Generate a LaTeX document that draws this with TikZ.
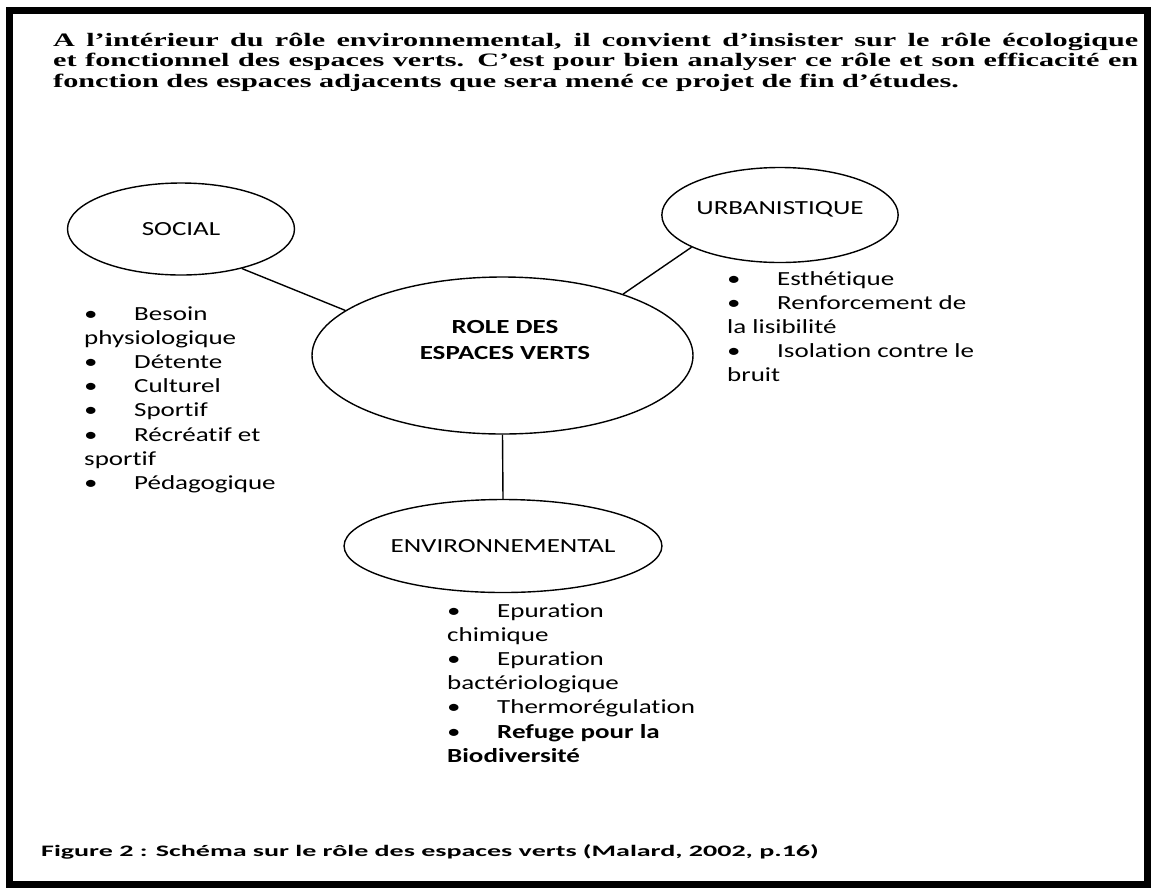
\documentclass[tikz,border=0pt]{standalone}
\usepackage{fontspec}
\setmainfont{Liberation Serif}
\newfontfamily\schemafont[FakeStretch=1.35,Ligatures=NoCommon]{Carlito}
\newfontfamily\titrefont[FakeStretch=1.59,Ligatures=NoCommon]{Liberation Serif}
\newfontfamily\legendefont[FakeStretch=1.75,Ligatures=NoCommon]{Carlito}
\usetikzlibrary{shapes.geometric,positioning}
\newcommand{\puce}{\strut\makebox[50pt][l]{\textbullet}}
\tikzset{
  bulle/.style  = {draw, ellipse, line width=1.4pt, inner sep=0pt,
                   font=\schemafont\fontsize{20}{24.2}\selectfont},
  liste/.style  = {anchor=north west, align=left, inner sep=0pt,
                   font=\schemafont\fontsize{20}{24.2}\selectfont},
  lien/.style   = {line width=1.4pt},
  cadre/.style  = {line width=7pt},
}
\begin{document}
\begin{tikzpicture}[x=1pt,y=-1pt]
  \useasboundingbox (0,0) rectangle (1158,887);
  \draw[cadre] (9.5,10) rectangle (1147,884);
  % texte
  \node[anchor=north west, inner sep=0pt, text width=1085pt, align=justify,
        font=\titrefont\bfseries\fontsize{19}{20.5}\selectfont] (titre) at (53,31.7)
    {\strut A l’intérieur du rôle environnemental, il convient d’insister sur le rôle écologique\linebreak
     et fonctionnel des espaces verts. C’est pour bien analyser ce rôle et son efficacité en\linebreak
     fonction des espaces adjacents que sera mené ce projet de fin d’études.};
  % centre
  \node[bulle, minimum width=381pt, minimum height=157pt] (role) at (502.5,355.5) {};
  \node[inner sep=0pt, align=center,
        font=\schemafont\bfseries\fontsize{20}{26}\selectfont] (roletxt) at (505,340)
    {ROLE DES\\ESPACES VERTS};
  % social
  \node[bulle, minimum width=227pt, minimum height=92pt] (soc) at (181,229) {SOCIAL};
  \draw[lien] (soc.327) -- (role.164.7);
  \node[liste] (socliste) at (84,303)
    {\puce Besoin\\ physiologique\\ \puce Détente\\ \puce Culturel\\ \puce Sportif\\
     \puce Récréatif et\\ sportif\\ \puce Pédagogique};
  % urbanistique
  \node[bulle, minimum width=225pt, minimum height=95pt, text height=13pt, text depth=15pt]
    (urb) at (780,215) {URBANISTIQUE};
  \draw[lien] (urb.200.6) -- (role.27.2);
  \node[liste] (urbliste) at (727,268)
    {\puce Esthétique\\ \puce Renforcement de\\ la lisibilité\\ \puce Isolation contre le\\ bruit};
  % environnemental
  \node[bulle, minimum width=302pt, minimum height=93pt] (env) at (503,546)
    {ENVIRONNEMENTAL\hspace{12pt}};
  \draw[lien] (role.south) -- (env.north);
  \node[liste] (envliste) at (447,600)
    {\puce Epuration\\ chimique\\ \puce Epuration\\ bactériologique\\ \puce Thermorégulation\\
     \puce \textbf{Refuge pour la}\\ \textbf{Biodiversité}};
  % legende
  \node[anchor=base west, inner sep=0pt, font=\legendefont\bfseries\fontsize{16}{19}\selectfont]
    (legende) at (41,856) {Figure 2 : Schéma sur le rôle des espaces verts (Malard, 2002, p.16)};
\end{tikzpicture}
\end{document}
